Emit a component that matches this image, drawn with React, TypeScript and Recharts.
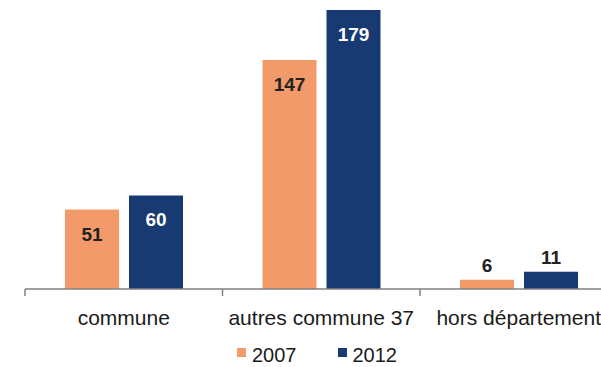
import { BarChart, Bar, XAxis, YAxis, LabelList } from 'recharts';

const categories = ['commune', 'autres commune 37', 'hors département'];
const values2007 = [51, 147, 6];
const values2012 = [60, 179, 11];
const seriesNames = ['2007', '2012'];

const ORANGE = '#F39A6B';
const NAVY = '#173A73';
const FONT = '"Liberation Sans", Arial, sans-serif';

const chartData = categories.map((name, i) => ({
  name,
  y2007: values2007[i],
  y2012: values2012[i],
}));

// label goes inside the bar near the top, or above it when the bar is too short
const makeLabel = (insideColor: string) => (props: any) => {
  const { x, y, width, height, value } = props;
  const cx = Number(x) + Number(width) / 2;
  const small = Number(height) < 40;
  return (
    <text
      x={cx}
      y={small ? Number(y) - 8 : Number(y) + 31}
      textAnchor="middle"
      fontFamily={FONT}
      fontWeight="bold"
      fontSize={19}
      fill={small ? '#222' : insideColor}
    >
      {value}
    </text>
  );
};

const CategoryTick = (props: any) => {
  const { x, y, payload } = props;
  const half = payload?.offset ?? 0;
  return (
    <g>
      <line x1={x - half} x2={x - half} y1={y} y2={y + 7} stroke="#808080" strokeWidth={1.5} />
      <text x={x} y={y + 36} textAnchor="middle" fontFamily={FONT} fontSize={21} fill="#1a1a1a">
        {payload.value}
      </text>
    </g>
  );
};

export default function App() {
  return (
    <div
      style={{
        position: 'absolute',
        left: 0,
        top: 0,
        width: 601,
        height: 367,
        overflow: 'hidden',
        background: '#fff',
      }}
    >
      <BarChart
        width={640}
        height={367}
        data={chartData}
        margin={{ top: 10, right: 22.5, left: 25, bottom: 0 }}
        barSize={54}
        barGap={10}
      >
        <XAxis
          dataKey="name"
          height={78}
          axisLine={{ stroke: '#808080', strokeWidth: 1.5 }}
          tickLine={false}
          tickSize={0}
          tickMargin={0}
          interval={0}
          tick={<CategoryTick />}
        />
        <YAxis hide domain={[0, 'dataMax']} />
        <Bar dataKey="y2007" name={seriesNames[0]} fill={ORANGE} isAnimationActive={false}>
          <LabelList dataKey="y2007" content={makeLabel('#222')} />
        </Bar>
        <Bar dataKey="y2012" name={seriesNames[1]} fill={NAVY} isAnimationActive={false}>
          <LabelList dataKey="y2012" content={makeLabel('#fff')} />
        </Bar>
      </BarChart>
      <div
        style={{
          position: 'absolute',
          left: 237,
          top: 345,
          display: 'flex',
          alignItems: 'flex-start',
          fontFamily: FONT,
          fontSize: 20,
          lineHeight: '20px',
          color: '#1a1a1a',
        }}
      >
        {seriesNames.map((s, i) => (
          <div key={s} style={{ display: 'flex', alignItems: 'flex-start', marginRight: i === 0 ? 41 : 0 }}>
            <span
              style={{
                display: 'inline-block',
                width: 9,
                height: 9,
                marginTop: 3,
                marginRight: 6,
                background: i === 0 ? ORANGE : NAVY,
              }}
            />
            <span>{s}</span>
          </div>
        ))}
      </div>
    </div>
  );
}
